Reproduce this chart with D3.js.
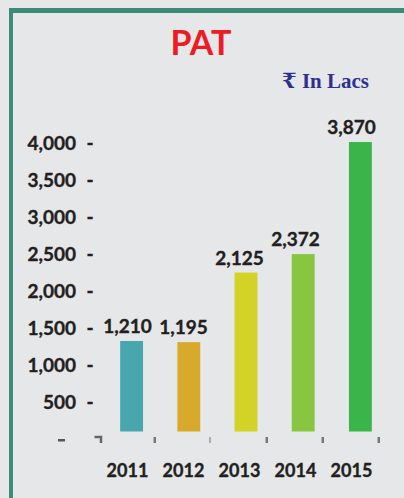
<!DOCTYPE html>
<html>
<head>
<meta charset="utf-8">
<script src="https://cdn.jsdelivr.net/npm/d3@7/dist/d3.min.js"></script>
<style>
  html, body { margin: 0; padding: 0; background: #e6e7e9; }
  svg { display: block; }
</style>
</head>
<body>
<svg id="chart" width="404" height="498"></svg>
<script>
const years = ["2011", "2012", "2013", "2014", "2015"];
const pat = [1210, 1195, 2125, 2372, 3870];
const yTicks = [500, 1000, 1500, 2000, 2500, 3000, 3500, 4000];
const barColors = ["#48a6ae", "#d8aa2b", "#d3d327", "#88c541", "#3ab54a"];

const svg = d3.select("#chart");
const ink = "#231f20";
const numFont = "Lato, 'Open Sans', sans-serif";

// bold numbers, a touch heavier like the original
function numStyle(sel, size) {
    sel.style("font-family", numFont)
        .style("font-weight", "bold")
        .style("font-size", size)
        .style("fill", ink)
        .style("stroke", ink)
        .style("stroke-width", "0.35px");
}

svg.append("rect").attr("width", 404).attr("height", 498).attr("fill", "#e6e7e9");

// frame
svg.append("rect").attr("x", 9).attr("y", 8).attr("width", 395).attr("height", 5).attr("fill", "#3d8a78");
svg.append("rect").attr("x", 9).attr("y", 8).attr("width", 4).attr("height", 490).attr("fill", "#3d8a78");

// titles
svg.append("text")
    .attr("x", 201).attr("y", 55)
    .attr("text-anchor", "middle")
    .style("font-family", "'Liberation Sans Narrow', Lato, sans-serif")
    .style("font-weight", "bold")
    .style("font-size", "34px")
    .style("fill", "#ed1c24")
    .text("PAT");

svg.append("text")
    .attr("x", 369).attr("y", 88)
    .attr("text-anchor", "end")
    .style("font-family", "'Liberation Serif', 'DejaVu Serif', serif")
    .style("font-weight", "bold")
    .style("font-size", "21px")
    .style("fill", "#2e3192")
    .text("₹ In Lacs");

// scales
const x = d3.scaleBand().domain(years).range([103, 389]).paddingInner(0.6).paddingOuter(0.3);
const xLab = d3.scaleBand().domain(years).range([99.5, 379.5]);
const y = d3.scaleLinear().domain([0, 4000]).range([431.5, 132.3]);
const yAxisScale = d3.scaleLinear().domain([0, 4000]).range([440, 143]);

// y axis
const yAxis = svg.append("g")
    .attr("transform", "translate(76,0)")
    .call(d3.axisLeft(yAxisScale).tickValues(yTicks).tickSize(0).tickPadding(0).tickFormat(d3.format(",")));
yAxis.select(".domain").remove();
numStyle(yAxis.selectAll("text"), "19px");
numStyle(yAxis.selectAll(".tick").append("text")
    .attr("x", 14)
    .attr("dy", "0.32em")
    .attr("text-anchor", "middle")
    .text("-"), "19px");

// zero mark
svg.append("rect")
    .attr("x", 58).attr("y", yAxisScale(0) - 1)
    .attr("width", 7).attr("height", 2.5)
    .attr("fill", "#555");

// x axis ticks
svg.append("path")
    .attr("d", `M${xLab.range()[0] - 5},${437} H${xLab.range()[0] + 1.5} V${443}`)
    .attr("fill", "none").attr("stroke", "#666").attr("stroke-width", 2.5);
svg.selectAll(".xtick").data(years).enter().append("rect")
    .attr("class", "xtick")
    .attr("x", d => xLab(d) + xLab.step() - 2)
    .attr("y", 437)
    .attr("width", (d, i) => i === 1 ? 1 : 2.5)
    .attr("height", 6)
    .attr("fill", "#777");

numStyle(svg.selectAll(".xlab").data(years).enter().append("text")
    .attr("class", "xlab")
    .attr("x", d => xLab(d) + xLab.bandwidth() / 2)
    .attr("y", 477)
    .attr("text-anchor", "middle")
    .text(d => d), "18px");

// bars
svg.selectAll(".bar").data(pat).enter().append("rect")
    .attr("class", "bar")
    .attr("x", (d, i) => x(years[i]))
    .attr("y", d => y(d))
    .attr("width", x.bandwidth())
    .attr("height", d => y(0) - y(d))
    .attr("fill", (d, i) => barColors[i]);

numStyle(svg.selectAll(".val").data(pat).enter().append("text")
    .attr("class", "val")
    .attr("x", (d, i) => xLab(years[i]) + xLab.bandwidth() / 2)
    .attr("y", d => y(d) - 8)
    .attr("text-anchor", "middle")
    .text(d => d3.format(",")(d)), "19px");
</script>
</body>
</html>
